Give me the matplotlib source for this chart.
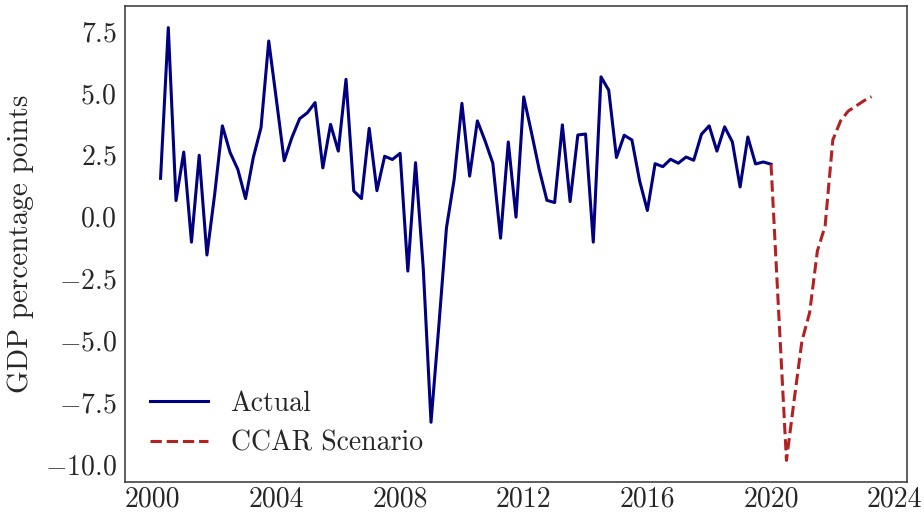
import numpy as np
import matplotlib
matplotlib.use("Agg")
import matplotlib.pyplot as plt
from matplotlib.ticker import MultipleLocator, FormatStrFormatter

# Quarterly real GDP growth, annualized (end-of-quarter dates as fractional years)
actual_start = 2000.25
actual_growth = [
    1.55, 7.64, 0.65, 2.61, -1.03, 2.48, -1.55, 0.90,
    3.67, 2.59, 1.91, 0.73, 2.39, 3.60, 7.10, 4.70,
    2.26, 3.20, 3.96, 4.20, 4.61, 1.97, 3.73, 2.65,
    5.55, 1.04, 0.73, 3.57, 1.05, 2.44, 2.31, 2.56,
    -2.20, 2.18, -2.10, -8.31, -4.47, -0.45, 1.51, 4.58,
    1.64, 3.87, 3.06, 2.16, -0.87, 3.02, -0.02, 4.84,
    3.40, 1.91, 0.66, 0.57, 3.71, 0.61, 3.30, 3.34,
    -1.03, 5.65, 5.11, 2.39, 3.29, 3.10, 1.44, 0.25,
    2.14, 2.02, 2.32, 2.16, 2.41, 2.28, 3.33, 3.67,
    2.65, 3.63, 3.02, 1.20, 3.22, 2.13, 2.21, 2.12,
]

# Stress scenario path, starting from the last observed quarter
scenario_start = 2020.0
scenario_growth = [
    2.12, -3.90, -9.85, -7.40, -5.03, -3.88, -1.39, -0.38,
    3.10, 3.87, 4.27, 4.47, 4.68, 4.85,
]

actual_x = actual_start + 0.25 * np.arange(len(actual_growth))
scenario_x = scenario_start + 0.25 * np.arange(len(scenario_growth))

plt.rcParams["font.family"] = "cmr10"
plt.rcParams["mathtext.fontset"] = "cm"
plt.rcParams["axes.formatter.use_mathtext"] = True
plt.rcParams["axes.unicode_minus"] = True

fig = plt.figure(figsize=(9.24, 5.12), dpi=100)
ax = fig.add_axes([0.1353, 0.0586, 0.8463, 0.9297])

ax.plot(actual_x, actual_growth, color="#000080", lw=2.2, label="Actual")
ax.plot(scenario_x, scenario_growth, color="#B22222", lw=2.2, ls="--",
        label="CCAR Scenario")

ax.xaxis.set_major_locator(MultipleLocator(4))
ax.xaxis.set_major_formatter(FormatStrFormatter("%d"))
ax.yaxis.set_major_locator(MultipleLocator(2.5))

ax.tick_params(axis="both", length=0, labelsize=20, colors="0.15")
ax.tick_params(axis="x", pad=3)
ax.tick_params(axis="y", pad=6)
for s in ax.spines.values():
    s.set_color("0.2")
    s.set_linewidth(1.1)

ax.set_ylabel("GDP percentage points", fontsize=21, color="0.15", labelpad=8)

leg = ax.legend(loc="lower left", frameon=False, fontsize=20,
                handlelength=2.1, borderaxespad=0.5)
for t in leg.get_texts():
    t.set_color("0.15")

fig.savefig("out.png", dpi=100)
